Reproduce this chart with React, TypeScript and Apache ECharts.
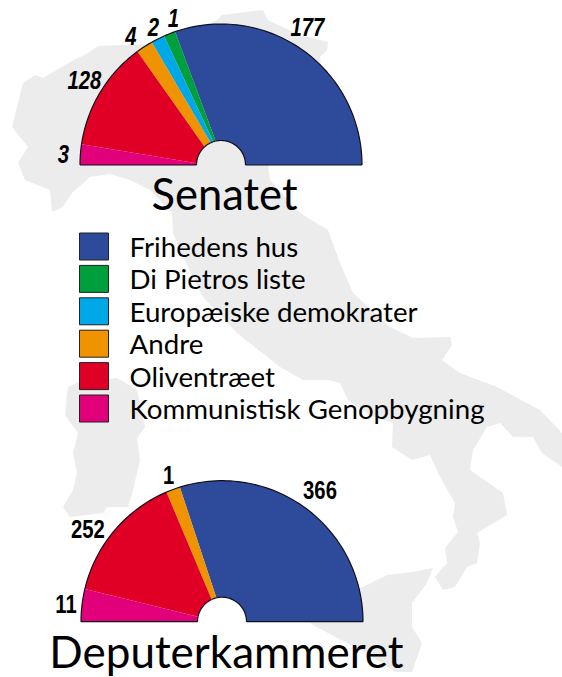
import React, { useEffect, useRef } from "react";
import * as echarts from "echarts";

// Parties, top to bottom in the legend
const parties = ["Frihedens hus", "Di Pietros liste", "Europæiske demokrater", "Andre", "Oliventræet", "Kommunistisk Genopbygning"];
const partyColors = ["#2e4a9a", "#009f3d", "#00a8e8", "#ef9400", "#e00025", "#e2007a"];

// Senate: seats, and the degrees each party covers on the rim and on the hub, as drawn
const senateSeats = [177, 1, 2, 4, 128, 3];
const senateRimSpan = [109, 4.8, 5.6, 7, 45.1, 8.5];
const senateHubSpan = [102.7, 5.8, 6.7, 17, 43.8, 4];
const senateLabelRadius = [163, 154, 154, 157, 161, 158];
const senateLabelAngle = [58, 108, 116, 125, 148, 176];

// Chamber of deputies: only four parties are present
const chamberParties = [0, 3, 4, 5];
const chamberSeats = [366, 1, 252, 11];
const chamberRimSpan = [107.4, 5.8, 53.4, 13.4];
const chamberHubSpan = [103.4, 11.6, 53.5, 11.5];
const chamberLabelRadius = [164, 156, 163, 157];
const chamberLabelAngle = [53.3, 110, 145.3, 173.5];

const MAINLAND = [[12,127],[23,83],[35,75],[43,78],[70,62],[88,53],[98,46],[150,44],[200,28],[217,20],[222,15],[263,10],[268,20],[300,35],[328,42],[327,50],[320,57],[330,120],[268,167],[270,180],[300,213],[328,230],[340,263],[353,293],[390,327],[413,338],[450,337],[452,345],[442,360],[460,373],[497,387],[540,410],[562,433],[562,467],[542,453],[533,437],[513,437],[500,423],[487,427],[473,450],[470,470],[503,493],[507,515],[477,533],[480,543],[477,563],[467,567],[455,587],[443,590],[435,577],[447,563],[445,548],[458,532],[453,517],[455,503],[440,477],[430,455],[412,460],[392,447],[393,423],[370,415],[348,400],[340,383],[328,380],[303,380],[280,367],[237,333],[203,297],[183,257],[173,233],[172,213],[150,190],[130,180],[110,174],[90,177],[72,193],[63,207],[52,212],[50,190],[25,180],[18,163],[28,147]];
const SARDINIA = [[68,387],[77,383],[117,378],[137,390],[145,427],[137,438],[140,460],[133,490],[128,507],[107,507],[103,513],[70,517],[63,507],[73,490],[77,473],[73,453],[78,433],[65,415],[67,393]];
const SICILY = [[310,622],[330,600],[363,587],[387,575],[413,572],[433,568],[427,583],[412,603],[412,627],[422,643],[412,672],[395,672],[370,655],[345,642],[313,625]];

const HUB = 24.5;
const SANS = "Lato";
const NUMBERS = "Liberation Sans";

function arc(api: any, r: number, from: number, to: number) {
  const pts: number[][] = [];
  const steps = Math.max(2, Math.ceil(Math.abs(to - from) / 1.5));
  for (let i = 0; i <= steps; i++) pts.push(api.coord([r, from + ((to - from) * i) / steps]));
  return pts;
}

function chamberSeries(polarIndex: number, ids: number[], seats: number[], rim: number[], hub: number[], lr: number[], la: number[], italic: boolean) {
  let r0 = 0;
  let h0 = 0;
  return ids.map((p, i) => {
    const row = [r0, r0 + rim[i], h0, h0 + hub[i], seats[i], lr[i], la[i]];
    r0 += rim[i];
    h0 += hub[i];
    return {
      type: "custom",
      name: parties[p],
      coordinateSystem: "polar",
      polarIndex,
      clip: false,
      itemStyle: { color: partyColors[p] },
      data: [row],
      silent: true,
      renderItem: (_: any, api: any) => {
        const [a, b, c, d, s, tr, ta] = [0, 1, 2, 3, 4, 5, 6].map((k) => api.value(k));
        const outer = arc(api, 141, a, b);
        const inner = arc(api, HUB, d, c);
        const line = { stroke: "#10101c", lineWidth: 1.2, fill: "none" };
        const children: any[] = [
          { type: "polygon", shape: { points: [...outer, ...inner] }, style: { fill: partyColors[p] } },
          { type: "polyline", shape: { points: outer }, style: line },
          { type: "polyline", shape: { points: inner }, style: line },
        ];
        if (a === 0) children.push({ type: "polyline", shape: { points: [api.coord([HUB, 0]), api.coord([141, 0])] }, style: line });
        if (b >= 179.99) children.push({ type: "polyline", shape: { points: [api.coord([HUB, 180]), api.coord([141, 180])] }, style: line });
        const at = api.coord([tr, ta]);
        children.push({
          type: "text",
          x: at[0],
          y: at[1],
          scaleX: 0.78,
          style: {
            text: String(s),
            fill: "#000",
            fontFamily: NUMBERS,
            fontWeight: "bold",
            fontStyle: italic ? "italic" : "normal",
            fontSize: 26,
            align: "center",
            verticalAlign: "middle",
          },
        });
        return { type: "group", children };
      },
    };
  });
}

const polarAxes = (center: number[]) => ({ center, radius: [0, 141] });

export default function App() {
  const ref = useRef<HTMLDivElement>(null);
  useEffect(() => {
    document.body.style.margin = "0";
    const chart = echarts.init(ref.current!, null, { renderer: "svg" });
    const mapStyle = { fill: "#ececec" };
    chart.setOption({
      animation: false,
      backgroundColor: "#fff",
      polar: [polarAxes([221, 165]), polarAxes([222, 621.7])],
      angleAxis: [0, 1].map((i) => ({ polarIndex: i, min: 0, max: 360, startAngle: 0, clockwise: false, show: false })),
      radiusAxis: [0, 1].map((i) => ({ polarIndex: i, min: 0, max: 141, show: false })),
      title: [
        { text: "Senatet", padding: 0, left: 224.5, top: 193, textAlign: "center", textVerticalAlign: "middle", textStyle: { fontFamily: SANS, fontWeight: "normal", fontSize: 43.5, color: "#000" } },
        { text: "Deputerkammeret", padding: 0, left: 226.5, top: 651, textAlign: "center", textVerticalAlign: "middle", textStyle: { fontFamily: SANS, fontWeight: "normal", fontSize: 44, color: "#000" } },
      ],
      legend: {
        orient: "vertical",
        left: 79,
        top: 232.5,
        padding: 0,
        icon: "rect",
        itemWidth: 29,
        itemHeight: 27,
        itemGap: 4.4,
        selectedMode: false,
        data: parties,
        itemStyle: { borderColor: "#222", borderWidth: 1 },
        formatter: "{t|{name}}",
        textStyle: {
          rich: { t: { fontFamily: SANS, fontSize: 27.7, lineHeight: 26, color: "#000", padding: [0, 0, 0, 16] } },
        },
      },
      graphic: [
        { type: "polygon", z: -1, silent: true, shape: { points: MAINLAND }, style: mapStyle },
        { type: "polygon", z: -1, silent: true, shape: { points: SARDINIA }, style: mapStyle },
        { type: "polygon", z: -1, silent: true, shape: { points: SICILY }, style: mapStyle },
      ],
      series: [
        ...chamberSeries(0, [0, 1, 2, 3, 4, 5], senateSeats, senateRimSpan, senateHubSpan, senateLabelRadius, senateLabelAngle, true),
        ...chamberSeries(1, chamberParties, chamberSeats, chamberRimSpan, chamberHubSpan, chamberLabelRadius, chamberLabelAngle, false),
      ],
    });
    return () => chart.dispose();
  }, []);
  return <div ref={ref} style={{ width: 562, height: 677 }} />;
}
